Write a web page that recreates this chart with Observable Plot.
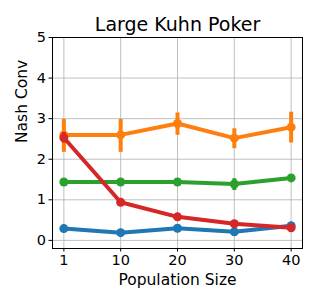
<!DOCTYPE html>
<html><head><meta charset="utf-8">
<script src="https://cdn.jsdelivr.net/npm/d3@7"></script>
<script src="https://cdn.jsdelivr.net/npm/@observablehq/plot@0.6"></script>
<style>body{margin:0;background:#fff}svg{font-family:"DejaVu Sans",sans-serif}</style>
</head><body><div id="chart"></div>
<script>
const popSizes = ["1", "10", "20", "30", "40"];
const yTicks = [0, 1, 2, 3, 4, 5];
const seriesNames = ["A", "B", "C", "D"];
const seriesColors = ["#1f77b4", "#ff7f0e", "#2ca02c", "#d62728"];
const blueMean = [0.29, 0.19, 0.30, 0.21, 0.36];
const blueLow  = [0.25, 0.15, 0.26, 0.17, 0.31];
const blueHigh = [0.33, 0.23, 0.34, 0.25, 0.41];
const orangeMean = [2.60, 2.60, 2.88, 2.52, 2.79];
const orangeLow  = [2.17, 2.17, 2.59, 2.26, 2.40];
const orangeHigh = [2.98, 2.98, 3.14, 2.75, 3.16];
const greenMean = [1.44, 1.44, 1.44, 1.39, 1.54];
const greenLow  = [1.40, 1.40, 1.40, 1.23, 1.50];
const greenHigh = [1.48, 1.48, 1.48, 1.52, 1.58];
const redMean = [2.53, 0.94, 0.58, 0.41, 0.31];
const redLow  = [2.40, 0.90, 0.54, 0.37, 0.27];
const redHigh = [2.66, 0.98, 0.62, 0.45, 0.35];

const means = [blueMean, orangeMean, greenMean, redMean];
const lows = [blueLow, orangeLow, greenLow, redLow];
const highs = [blueHigh, orangeHigh, greenHigh, redHigh];
const rows = [];
seriesNames.forEach((s, k) => popSizes.forEach((p, i) => rows.push({s, i, y: means[k][i], lo: lows[k][i], hi: highs[k][i]})));

const chart = Plot.plot({
  width: 319, height: 306,
  marginLeft: 52, marginRight: 17, marginTop: 37, marginBottom: 58,
  style: {fontFamily: "DejaVu Sans, sans-serif", fontSize: "14px", color: "#000", background: "#fff"},
  x: {domain: [-0.2, 4.2], ticks: [0, 1, 2, 3, 4], tickFormat: i => popSizes[i], label: null},
  y: {domain: [-0.2, 5], ticks: yTicks, tickFormat: d => String(d), label: null},
  color: {type: "ordinal", domain: seriesNames, range: seriesColors},
  marks: [
    Plot.gridX([0,1,2,3,4], {stroke: "#b0b0b0", strokeOpacity: 1, strokeWidth: 0.8}),
    Plot.gridY(yTicks, {stroke: "#b0b0b0", strokeOpacity: 1, strokeWidth: 0.8}),
    Plot.axisX({ticks: [0,1,2,3,4], tickFormat: i => popSizes[i], tickSize: 3.5, tickPadding: 3, fontSize: 14.5, label: null, fill: "#000"}),
    Plot.axisY({ticks: yTicks, tickFormat: d => String(d), tickSize: 3.5, tickPadding: 3, fontSize: 14.5, label: null, fill: "#000"}),
    Plot.text(["Population Size"], {frameAnchor: "bottom", dy: 32, fontSize: 15.5, lineAnchor: "middle", fill: "#000"}),
    Plot.text(["Nash Conv"], {frameAnchor: "left", dx: -30, rotate: -90, fontSize: 15.5, fill: "#000"}),
    Plot.text(["Large Kuhn Poker"], {frameAnchor: "top", dy: -7, lineAnchor: "bottom", fontSize: 19, fill: "#000"}),
    ...seriesNames.map(s => [
      Plot.line(rows.filter(d => d.s === s), {x: "i", y: "y", stroke: "s", strokeWidth: 4}),
      Plot.ruleX(rows.filter(d => d.s === s), {x: "i", y1: "lo", y2: "hi", stroke: "s", strokeWidth: 4}),
      Plot.dot(rows.filter(d => d.s === s), {x: "i", y: "y", fill: "s", r: 4.5})
    ]).flat(),
    Plot.frame({stroke: "#000", strokeWidth: 1})
  ]
});
document.getElementById("chart").appendChild(chart);
</script></body></html>
